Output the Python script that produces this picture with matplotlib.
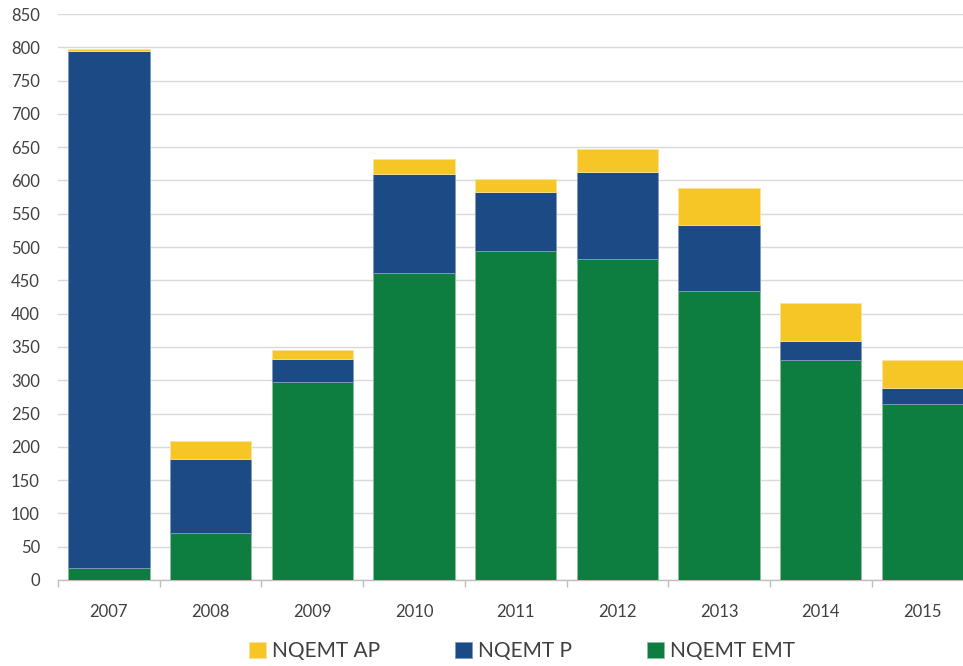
import matplotlib.pyplot as plt
import numpy as np

years = ['2007', '2008', '2009', '2010', '2011', '2012', '2013', '2014', '2015']
emt = [18, 71, 298, 461, 494, 482, 434, 331, 264]
p = [777, 111, 34, 149, 88, 131, 99, 28, 25]
ap = [2, 26, 14, 22, 20, 34, 55, 57, 42]

plt.rcParams['font.family'] = ['Lato', 'DejaVu Sans']

fig = plt.figure(figsize=(9.63, 6.66), dpi=100)
W, H = 963, 666
# axes: left at x=58px, zero line at y=580px, 850 at y=14px
ax = fig.add_axes([58 / W, (H - 580) / H, (W - 58) / W, 566 / H])

x = np.arange(len(years))
emt = np.array(emt)
p = np.array(p)
ap = np.array(ap)

green = '#0E7E40'
blue = '#1B4A84'
yellow = '#F6C627'

b1 = ax.bar(x, emt, width=0.8, color=green, edgecolor='#8FBF9F', linewidth=0.6, label='NQEMT EMT', zorder=3)
b2 = ax.bar(x, p, bottom=emt, width=0.8, color=blue, edgecolor='#7F9AC0', linewidth=0.6, label='NQEMT P', zorder=3)
b3 = ax.bar(x, ap, bottom=emt + p, width=0.8, color=yellow, edgecolor='#FBE39A', linewidth=0.6, label='NQEMT AP', zorder=3)

ax.set_yticks(np.arange(0, 851, 50))
ax.set_ylim(0, 850)
ax.set_xticks(x)
ax.set_xticklabels(years)
ax.set_xticks(np.arange(-0.5, 9, 1), minor=True)
# last category is cut off by the right edge, as in the original
ax.set_xlim(-0.5, -0.5 + (W - 58) / 101.7)

ax.grid(axis='y', color='#D9D9D9', linewidth=1, zorder=0)
for s in ['top', 'right', 'left']:
    ax.spines[s].set_visible(False)
ax.spines['bottom'].set_color('#BFBFBF')
ax.spines['bottom'].set_linewidth(1)

ax.tick_params(axis='y', length=0, pad=13, labelsize=12, labelcolor='#404040')
ax.tick_params(axis='x', which='major', length=0, pad=17, labelsize=12, labelcolor='#404040')
ax.tick_params(axis='x', which='minor', length=5, width=1, color='#BFBFBF')

fig.legend([b3, b2, b1], ['NQEMT AP', 'NQEMT P', 'NQEMT EMT'],
           loc='center', bbox_to_anchor=(522 / W, 15 / H), ncol=3, frameon=False,
           fontsize=15, handlelength=0.8, handleheight=0.8, handletextpad=0.3,
           columnspacing=3.6, labelcolor='#404040')

plt.savefig('out.png', dpi=100)
